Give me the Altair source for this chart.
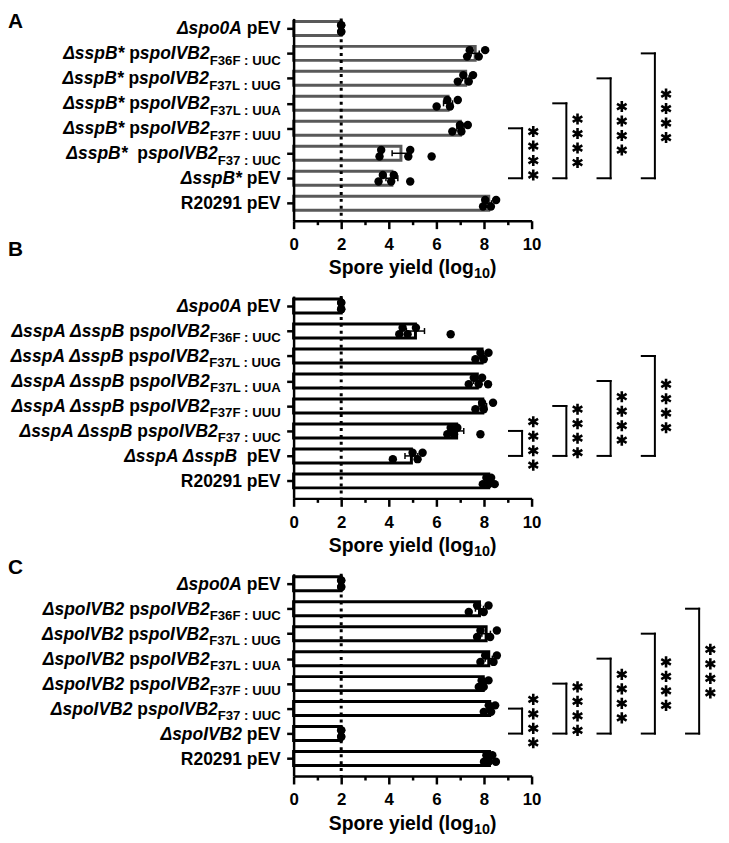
import altair as alt
import pandas as pd

FONT = "Liberation Sans"
W_PLOT, H_PLOT = 240, 204
PXU = W_PLOT / 10.0
ROW_DOMAIN = [-0.4, 7.7]

LABEL_FS, SUB_FS = 17.6, 13.3
TITLE_FS, TITLE_SUB_FS = 19.5, 14.5
TICK_FS = 17

# ---------------- data ----------------
subs = ["F36F : UUC", "F37L : UUG", "F37L : UUA", "F37F : UUU", "F37 : UUC"]

labels_A = [[("Δspo0A", "i"), (" pEV", "n")]] + \
    [[("ΔsspB*", "i"), (" p", "n"), ("spoIVB2", "i"), (s, "s")] for s in subs[:4]] + \
    [[("ΔsspB*", "i"), ("  p", "n"), ("spoIVB2", "i"), (subs[4], "s")],
     [("ΔsspB*", "i"), (" pEV", "n")],
     [("R20291 pEV", "n")]]
means_A = [2.0, 7.63, 7.23, 6.49, 7.01, 4.51, 4.13, 8.20]
sem_A = [0.0, 0.17, 0.14, 0.19, 0.15, 0.37, 0.25, 0.12]
points_A = [[2.0, 2.0, 2.0, 2.0],
            [7.40, 8.05, 7.29, 7.78],
            [7.13, 7.54, 6.90, 7.36],
            [6.46, 6.90, 6.01, 6.57],
            [6.99, 7.32, 6.67, 7.05],
            [3.68, 4.90, 5.80, 3.61, 4.82],
            [3.75, 4.21, 4.90, 3.57, 4.10],
            [8.29, 8.51, 7.96, 8.05]]
brackets_A = [(4, 6), (3, 6), (2, 6), (1, 6)]

labels_B = [[("Δspo0A", "i"), (" pEV", "n")]] + \
    [[("ΔsspA ΔsspB", "i"), (" p", "n"), ("spoIVB2", "i"), (s, "s")] for s in subs] + \
    [[("ΔsspA ΔsspB", "i"), ("  pEV", "n")],
     [("R20291 pEV", "n")]]
means_B = [2.0, 5.12, 7.92, 7.72, 7.95, 6.85, 4.95, 8.20]
sem_B = [0.0, 0.38, 0.12, 0.15, 0.16, 0.30, 0.27, 0.10]
points_B = [[2.0, 2.0, 2.0, 2.0],
            [4.44, 4.79, 5.14, 4.58, 6.60],
            [7.85, 8.19, 7.64, 7.99],
            [7.57, 8.17, 7.36, 7.92, 7.78],
            [7.92, 8.38, 7.64, 7.99],
            [6.74, 6.46, 6.60, 6.88, 7.85],
            [4.17, 5.00, 5.42, 5.21],
            [8.10, 8.45, 7.95, 8.30, 8.20]]
brackets_B = [(5, 6), (4, 6), (3, 6), (2, 6)]

labels_C = [[("Δspo0A", "i"), (" pEV", "n")]] + \
    [[("ΔspoIVB2", "i"), (" p", "n"), ("spoIVB2", "i"), (s, "s")] for s in subs] + \
    [[("ΔspoIVB2", "i"), (" pEV", "n")],
     [("R20291 pEV", "n")]]
means_C = [2.0, 7.81, 8.09, 8.20, 7.97, 8.24, 2.0, 8.23]
sem_C = [0.0, 0.17, 0.18, 0.15, 0.09, 0.10, 0.0, 0.10]
points_C = [[2.0, 2.0, 2.0, 2.0],
            [7.36, 7.99, 8.19, 7.71],
            [7.85, 8.26, 8.54, 7.71],
            [7.85, 8.40, 8.54, 8.05],
            [7.78, 8.19, 7.99, 7.90],
            [7.99, 8.47, 8.20, 8.30],
            [2.0, 2.0, 2.0, 2.0],
            [8.00, 8.50, 8.20, 8.35, 8.10]]
brackets_C = [(5, 6), (4, 6), (3, 6), (2, 6), (1, 6)]

x_ticks = list(range(0, 11))
title_segs = [("Spore yield (log", "n"), ("10", "s"), (")", "n")]

# Arial / Liberation Sans Bold advance widths (per 1000 em)
ADV = {' ': 278, '*': 389, ':': 333, '(': 333, ')': 333,
       'A': 722, 'B': 722, 'C': 722, 'E': 667, 'F': 611, 'G': 778, 'I': 278,
       'L': 611, 'R': 722, 'S': 667, 'U': 722, 'V': 667,
       'a': 556, 'd': 611, 'e': 556, 'g': 611, 'i': 278, 'l': 278, 'o': 611,
       'p': 611, 'r': 389, 's': 556, 'y': 556, 'Δ': 722}
for d in "0123456789":
    ADV[d] = 556


def tw(text, size):
    return sum(ADV.get(c, 600) for c in text) / 1000.0 * size


X_SCALE = alt.Scale(domain=[0, 10], nice=False, zero=False)
Y_SCALE = alt.Scale(domain=ROW_DOMAIN, reverse=True, nice=False, zero=False)
X_AXIS = alt.Axis(values=x_ticks, title=None, grid=False, domainColor="black",
                  domainWidth=2.5, tickColor="black", tickWidth=2.5,
                  tickSize={"condition": {"test": "datum.value % 2 === 0", "value": 8}, "value": 4},
                  labelExpr="datum.value % 2 === 0 ? datum.label : ''",
                  labelFont=FONT, labelFontSize=TICK_FS, labelFontWeight="bold",
                  labelColor="black", labelPadding=8, labelFlush=False,
                  labelOverlap=False, zindex=1)
Y_AXIS = alt.Axis(values=list(range(8)), title=None, grid=False, labels=False,
                  domainColor="black", domainWidth=2.5, tickColor="black",
                  tickWidth=2.5, tickSize=7, zindex=1)


def X(f):
    return alt.X(f, type="quantitative", scale=X_SCALE, axis=X_AXIS)


def Y(f):
    return alt.Y(f, type="quantitative", scale=Y_SCALE, axis=Y_AXIS)


def panel(letter, letter_y, labels, means, sems, points, brackets, bar_color):
    rows = list(range(len(labels)))
    bars = pd.DataFrame({"row": rows, "mean": means, "sem": sems})
    bars["zero"] = 0.0
    bars["y0"] = bars["row"] - 0.28
    bars["y1"] = bars["row"] + 0.28
    bars["lo"] = bars["mean"] - bars["sem"]
    bars["hi"] = bars["mean"] + bars["sem"]
    bars["c0"] = bars["row"] - 0.12
    bars["c1"] = bars["row"] + 0.12
    err = bars[bars["sem"] > 0]

    dots = []
    for r, pts in enumerate(points):
        order = sorted(range(len(pts)), key=lambda i: pts[i])
        for rank, i in enumerate(order):
            dy = 0.13 if rank % 2 == 0 else -0.13
            dots.append({"row": r + dy, "v": pts[i]})
    dots = pd.DataFrame(dots)

    br, stars = [], []
    for k, (r1, r2) in enumerate(brackets):
        xv = 9.6 + k * 1.86
        xl = xv - 0.55
        br += [{"x": xv, "x2": xv, "y": r1, "y2": r2},
               {"x": xl, "x2": xv, "y": r1, "y2": r1},
               {"x": xl, "x2": xv, "y": r2, "y2": r2}]
        mid = (r1 + r2) / 2.0
        for i in range(4):
            stars.append({"x": xv + 0.47, "y": mid + (i - 1.5) * 0.58})
    br = pd.DataFrame(br)
    stars = pd.DataFrame(stars)

    segs = []
    for r, parts in enumerate(labels):
        cur = -13.0
        for text, st in reversed(parts):
            segs.append({"row": r, "text": text, "st": st, "x": cur / PXU})
            cur -= tw(text, SUB_FS if st == "s" else LABEL_FS)
    segs = pd.DataFrame(segs)

    total = sum(tw(t, TITLE_SUB_FS if s == "s" else TITLE_FS) for t, s in title_segs)
    cur = 5.0 * PXU - total / 2.0
    tsegs = []
    for t, s in title_segs:
        tsegs.append({"text": t, "st": s, "x": cur / PXU})
        cur += tw(t, TITLE_SUB_FS if s == "s" else TITLE_FS)
    tsegs = pd.DataFrame(tsegs)

    guide = pd.DataFrame({"x": [2.0], "y0": [ROW_DOMAIN[0]], "y1": [ROW_DOMAIN[1]]})
    letter_df = pd.DataFrame({"x": [-288.0 / PXU], "text": [letter]})

    layers = []
    layers.append(alt.Chart(bars).mark_rect(fill="white", stroke=bar_color, strokeWidth=3).encode(
        x=X("zero"), x2=alt.X2("mean"), y=Y("y0"), y2=alt.Y2("y1")))
    layers.append(alt.Chart(err).mark_rule(color="black", strokeWidth=1.5).encode(
        x=X("lo"), x2=alt.X2("hi"), y=Y("row")))
    layers.append(alt.Chart(err).mark_rule(color="black", strokeWidth=1.5).encode(
        x=X("lo"), y=Y("c0"), y2=alt.Y2("c1")))
    layers.append(alt.Chart(err).mark_rule(color="black", strokeWidth=1.5).encode(
        x=X("hi"), y=Y("c0"), y2=alt.Y2("c1")))
    layers.append(alt.Chart(guide).mark_rule(color="black", strokeWidth=3, strokeDash=[3, 4]).encode(
        x=X("x"), y=Y("y0"), y2=alt.Y2("y1")))
    layers.append(alt.Chart(dots).mark_circle(color="black", opacity=1, size=72).encode(
        x=X("v"), y=Y("row")))
    layers.append(alt.Chart(br).mark_rule(color="black", strokeWidth=2, strokeCap="square").encode(
        x=X("x"), x2=alt.X2("x2"), y=Y("y"), y2=alt.Y2("y2")))
    layers.append(alt.Chart(stars).mark_point(
        shape="M0,-1L0,1M-0.866,-0.5L0.866,0.5M-0.866,0.5L0.866,-0.5",
        filled=False, color="black", opacity=1, size=125, strokeWidth=2.6).encode(
        x=X("x"), y=Y("y")))
    for st, style, size, dy in [("i", "italic", LABEL_FS, 6), ("n", "normal", LABEL_FS, 6),
                                ("s", "normal", SUB_FS, 11.5)]:
        layers.append(alt.Chart(segs).transform_filter(alt.datum.st == st).mark_text(
            align="right", baseline="alphabetic", dy=dy, font=FONT, fontSize=size,
            fontWeight="bold", fontStyle=style, color="black").encode(
            x=X("x"), y=Y("row"), text="text:N"))
    for st, size, yy in [("n", TITLE_FS, H_PLOT + 54), ("s", TITLE_SUB_FS, H_PLOT + 58)]:
        layers.append(alt.Chart(tsegs).transform_filter(alt.datum.st == st).mark_text(
            align="left", baseline="alphabetic", font=FONT, fontSize=size,
            fontWeight="bold", color="black").encode(
            x=X("x"), y=alt.value(yy), text="text:N"))
    layers.append(alt.Chart(letter_df).mark_text(
        align="left", baseline="alphabetic", font=FONT, fontSize=21,
        fontWeight="bold", color="black").encode(
        x=X("x"), y=alt.value(letter_y), text="text:N"))
    return alt.layer(*layers).properties(width=W_PLOT, height=H_PLOT)


pA = panel("A", 10, labels_A, means_A, sem_A, points_A, brackets_A, "#595959")
pB = panel("B", -40, labels_B, means_B, sem_B, points_B, brackets_B, "black")
pC = panel("C", 0, labels_C, means_C, sem_C, points_C, brackets_C, "black")

chart = alt.vconcat(pA, pB, pC, spacing=76, bounds="flush").properties(
    padding=0
).configure_view(stroke=None)

chart.save("out.html", embed_options={"renderer": "svg", "actions": False})
